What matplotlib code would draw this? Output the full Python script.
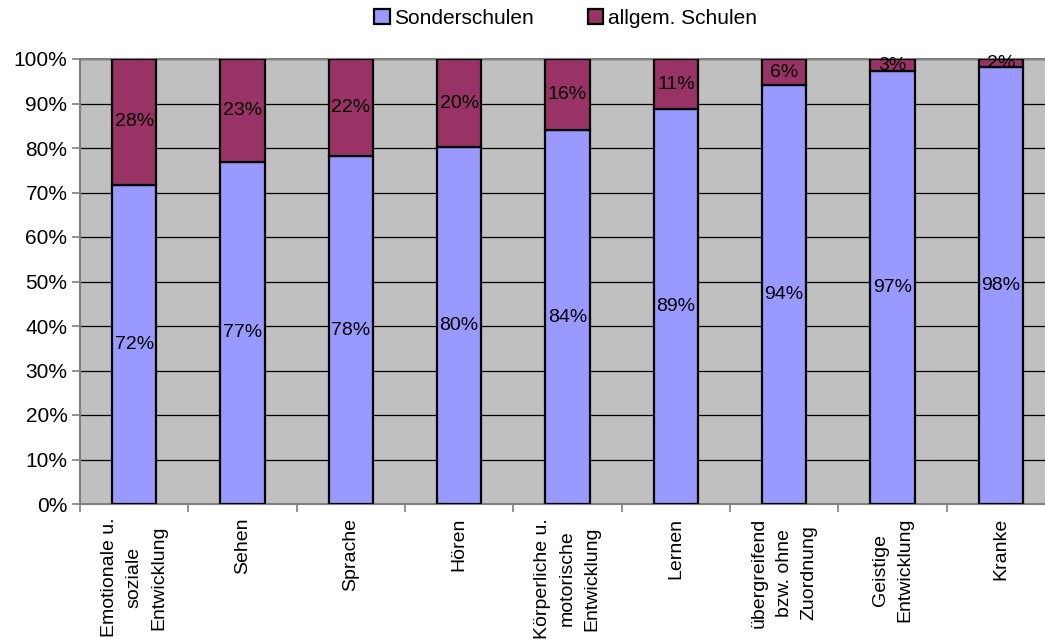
import matplotlib
matplotlib.use("Agg")
import matplotlib.pyplot as plt
import numpy as np

plt.rcParams['font.family'] = ['Liberation Sans', 'DejaVu Sans']

# Förderschwerpunkte and share of pupils (percent)
categories = ["Emotionale u.\nsoziale\nEntwicklung", "Sehen", "Sprache", "Hören",
              "Körperliche u.\nmotorische\nEntwicklung", "Lernen",
              "übergreifend\nbzw. ohne\nZuordnung", "Geistige\nEntwicklung", "Kranke"]
sonderschulen = [71.7, 76.9, 78.1, 80.2, 84.0, 88.7, 94.1, 97.3, 98.2]
allgemein = [28.3, 23.1, 21.9, 19.8, 16.0, 11.3, 5.9, 2.7, 1.8]
series_names = ["Sonderschulen", "allgem. Schulen"]
yticks = [0, 10, 20, 30, 40, 50, 60, 70, 80, 90, 100]

fig = plt.figure(figsize=(10.45, 6.39), dpi=100)
ax = fig.add_axes([80/1045, 1 - 504/639, 975/1045, 445/639])
ax.set_facecolor("#C0C0C0")

x = np.arange(len(categories))
w = 0.41
b1 = ax.bar(x, sonderschulen, w, color="#9999FF", edgecolor="black", linewidth=1.6,
            label=series_names[0], zorder=3)
b2 = ax.bar(x, allgemein, w, bottom=sonderschulen, color="#993366", edgecolor="black",
            linewidth=1.6, label=series_names[1], zorder=3)

# value labels in the middle of each segment
for i in range(len(categories)):
    ax.text(x[i], sonderschulen[i] / 2, f"{sonderschulen[i]:.0f}%", ha="center",
            va="center", fontsize=14, zorder=4)
    ax.text(x[i], sonderschulen[i] + allgemein[i] / 2, f"{allgemein[i]:.0f}%",
            ha="center", va="center", fontsize=14, zorder=4, clip_on=False)

ax.set_xlim(-0.5, len(categories) - 0.5)
ax.set_ylim(0, 100)
ax.set_yticks(yticks)
ax.set_yticklabels([f"{t}%" for t in yticks], fontsize=15)
ax.yaxis.grid(True, color="black", linewidth=0.9, zorder=1)
ax.set_axisbelow(True)

ax.set_xticks(x)
ax.set_xticklabels(categories, rotation=90, fontsize=14, multialignment="center",
                   linespacing=1.6)
ax.tick_params(axis="x", which="major", length=0, pad=10)
ax.set_xticks(np.arange(len(categories) + 1) - 0.5, minor=True)
ax.tick_params(axis="x", which="minor", length=6, color="#808080", width=1.2)
ax.tick_params(axis="y", length=6, color="#808080", width=1.2, pad=3)

for s in ["left", "bottom", "top"]:
    ax.spines[s].set_color("#808080")
    ax.spines[s].set_linewidth(1.5)
ax.spines["right"].set_visible(False)

leg = fig.legend(handles=[b1, b2], loc="center", bbox_to_anchor=(0.541, 0.971), ncol=2,
                 frameon=False, fontsize=15, handlelength=0.75, handleheight=0.75,
                 handletextpad=0.2, columnspacing=2.6)

fig.savefig("out.png", dpi=100)
